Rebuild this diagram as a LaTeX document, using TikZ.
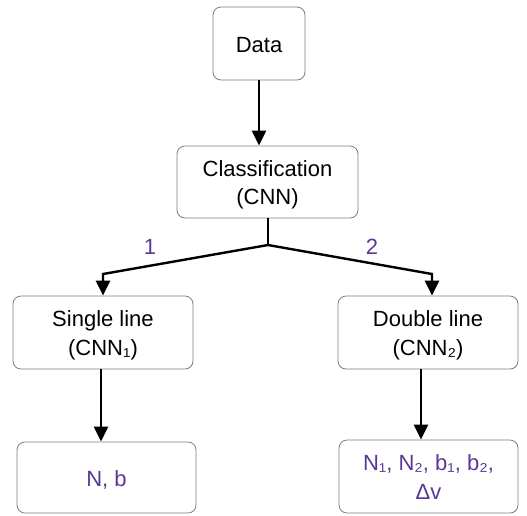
\documentclass[tikz,border=0pt]{standalone}
\usepackage{fontspec}
\setmainfont{Liberation Sans}
\usetikzlibrary{arrows.meta,calc}
\definecolor{boxgray}{RGB}{125,125,125}
\definecolor{lblpurple}{RGB}{88,56,150}
\newcommand\boxtxt[1]{\raisebox{-3pt}[\height][\depth]{\begin{tabular}{@{}c@{}}#1\end{tabular}}}
\begin{document}
\begin{tikzpicture}[x=1pt,y=-1pt,
  box/.style={draw=boxgray,line width=0.8pt,rounded corners=8pt,inner sep=0pt,
    font=\fontsize{22}{28.5}\selectfont},
  conn/.style={line width=2.4pt,-{Triangle[width=14pt,length=15pt]}},
  lbl/.style={text=lblpurple,font=\fontsize{22}{26}\selectfont,inner sep=0pt}]
\useasboundingbox (0,0) rectangle (527,515);
\node[box,minimum width=92pt,minimum height=73pt] (data) at (259,43.5) {\boxtxt{Data}};
\node[box,minimum width=181pt,minimum height=72pt] (class) at (267.5,182) {\boxtxt{Classification\\(CNN)}};
\node[box,minimum width=180pt,minimum height=73pt] (single) at (103,332.5) {\boxtxt{Single line\\(CNN₁)}};
\node[box,minimum width=180pt,minimum height=73pt] (double) at (428,332.5) {\boxtxt{Double line\\(CNN₂)}};
\node[box,minimum width=179pt,minimum height=71pt,text=lblpurple] (nb) at (106.5,477.5) {\boxtxt{N, b}};
\node[box,minimum width=179pt,minimum height=73pt,text=lblpurple] (params) at (428.5,476.5) {\boxtxt{N₁, N₂, b₁, b₂,\\Δv}};
\coordinate (j) at (268,245);
\coordinate (lc) at (103,274);
\coordinate (rc) at (432,274);
\node[lbl] (one) at (150,247) {1};
\node[lbl] (two) at (372,247) {2};
\draw[conn] (data.south) -- (data.south |- class.north);
\draw[line width=2.4pt] (class.south -| j) -- (j);
\draw[conn,line join=miter] (j) -- (lc) -- (lc |- single.north);
\draw[conn,line join=miter] (j) -- (rc) -- (rc |- double.north);
\draw[conn] ([xshift=-2pt]single.south) -- ([xshift=-2pt]single.south |- nb.north);
\draw[conn] ([xshift=-7pt]double.south) -- ([xshift=-7pt]double.south |- params.north);
\end{tikzpicture}
\end{document}
